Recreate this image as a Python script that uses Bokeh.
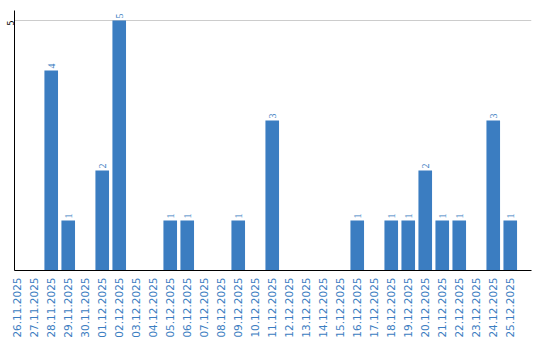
import math
from bokeh.plotting import figure
from bokeh.models import ColumnDataSource, Range1d, FixedTicker, LabelSet
from bokeh.embed import file_html
from bokeh.resources import INLINE

dates = ["26.11.2025", "27.11.2025", "28.11.2025", "29.11.2025", "30.11.2025",
         "01.12.2025", "02.12.2025", "03.12.2025", "04.12.2025", "05.12.2025",
         "06.12.2025", "07.12.2025", "08.12.2025", "09.12.2025", "10.12.2025",
         "11.12.2025", "12.12.2025", "13.12.2025", "14.12.2025", "15.12.2025",
         "16.12.2025", "17.12.2025", "18.12.2025", "19.12.2025", "20.12.2025",
         "21.12.2025", "22.12.2025", "23.12.2025", "24.12.2025", "25.12.2025"]
values = [0, 0, 4, 1, 0, 2, 5, 0, 0, 1, 1, 0, 0, 1, 0, 3, 0, 0, 0, 0,
          1, 0, 1, 1, 2, 1, 1, 0, 3, 1]
y_ticks = [5]

BLUE = "#3b7dc1"
FONT = "DejaVu Sans"

xs = list(range(len(dates)))
src = ColumnDataSource(dict(x=xs, top=values))
nz = [i for i, v in enumerate(values) if v > 0]
lab_src = ColumnDataSource(dict(x=[xs[i] for i in nz], top=[values[i] for i in nz],
                                label=[str(values[i]) for i in nz]))

p = figure(width=540, height=340, output_backend="svg", toolbar_location=None,
           x_range=Range1d(-0.16, 30.25), y_range=Range1d(0, 5.2),
           min_border_left=0, min_border_right=9, min_border_top=10, min_border_bottom=0)
p.outline_line_color = None
p.background_fill_color = "white"
p.border_fill_color = "white"

p.vbar(x="x", top="top", width=0.8, bottom=0, source=src, color=BLUE, line_color=None)

labels = LabelSet(x="x", y="top", text="label", source=lab_src, angle=math.pi / 2,
                  text_align="left", text_baseline="middle", y_offset=2,
                  text_font=FONT, text_font_size="10px", text_color=BLUE)
p.add_layout(labels)

p.xgrid.visible = False
p.ygrid.ticker = FixedTicker(ticks=y_ticks)
p.ygrid.grid_line_color = "#cccccc"
p.ygrid.grid_line_width = 1

p.yaxis.ticker = FixedTicker(ticks=y_ticks)
p.yaxis.major_tick_out = 0
p.yaxis.major_tick_in = 0
p.yaxis.minor_tick_out = 0
p.yaxis.minor_tick_in = 0
p.yaxis.major_label_orientation = math.pi / 2
p.yaxis.major_label_standoff = 4
p.yaxis.major_label_text_font = FONT
p.yaxis.major_label_text_font_size = "8px"
p.yaxis.major_label_text_color = "black"
p.yaxis.axis_line_color = "black"

p.xaxis.ticker = FixedTicker(ticks=xs)
p.xaxis.major_label_overrides = {i: d for i, d in enumerate(dates)}
p.xaxis.major_tick_out = 0
p.xaxis.major_tick_in = 0
p.xaxis.minor_tick_out = 0
p.xaxis.minor_tick_in = 0
p.xaxis.major_label_orientation = math.pi / 2
p.xaxis.major_label_standoff = 7
p.xaxis.major_label_text_font = FONT
p.xaxis.major_label_text_font_size = "10.5px"
p.xaxis.major_label_text_color = BLUE
p.xaxis.axis_line_color = "black"

open("out.html", "w").write(file_html(p, INLINE))
